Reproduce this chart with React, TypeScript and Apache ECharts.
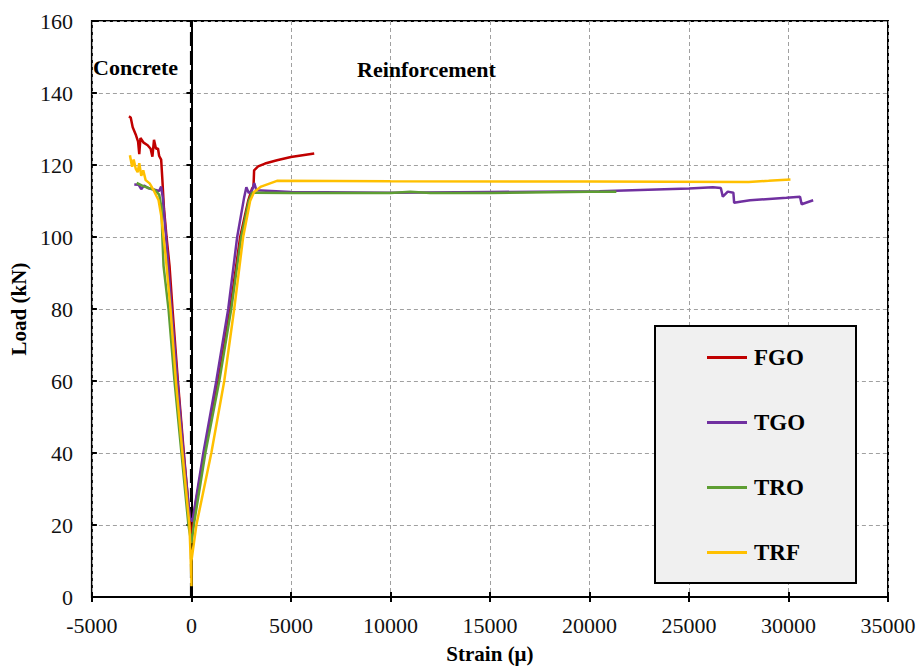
import React, { useEffect, useRef } from "react";
import * as echarts from "echarts";

// Strain (μ), Load (kN) pairs per specimen
const FGO: [number, number][] = [
  [-3140, 133.5], [-3050, 133.2], [-2950, 130.5], [-2800, 128.5], [-2680, 126.5], [-2620, 123], [-2560, 127.5],
  [-2400, 126.2], [-2200, 125.5], [-2050, 124.5], [-1960, 122.3], [-1880, 127], [-1780, 124.5], [-1680, 124.6],
  [-1620, 122.5], [-1520, 121.5], [-1460, 116], [-1380, 108], [-1250, 100], [-1100, 92], [-950, 80], [-680, 60],
  [-380, 40], [-60, 20], [0, 15], [150, 24], [650, 40], [1350, 60], [1950, 80], [2450, 100], [2850, 110],
  [3050, 113.5], [3120, 114], [3150, 118.5], [3350, 119.6], [3700, 120.4], [4300, 121.3], [5000, 122.2], [6170, 123.2],
];
const TGO: [number, number][] = [
  [-2870, 114.6], [-2650, 114.5], [-2520, 113.3], [-2380, 114.3], [-2150, 113.5], [-1850, 113.1], [-1620, 112.8],
  [-1520, 114], [-1440, 111], [-1320, 103], [-1200, 95], [-1000, 80], [-700, 60], [-400, 40], [-80, 22], [50, 21],
  [600, 40], [1250, 60], [1850, 80], [2300, 100], [2650, 111], [2760, 113.8], [2880, 112.2], [3050, 113], [3160, 115],
  [3260, 113], [5000, 112.5], [10000, 112.3], [15000, 112.5], [20500, 112.7], [25000, 113.5], [26200, 113.8],
  [26600, 113.6], [26700, 111.2], [26950, 112.6], [27230, 112.3], [27270, 109.5], [27570, 109.8], [28070, 110.2],
  [29900, 110.9], [30580, 111.2], [30660, 109.1], [31240, 110.2],
];
const TRO: [number, number][] = [
  [-2750, 115], [-2450, 114.2], [-2150, 113.6], [-1850, 113.1], [-1620, 111.8], [-1500, 108], [-1460, 100],
  [-1400, 92], [-1150, 80], [-850, 60], [-500, 40], [-150, 20], [0, 15], [120, 20], [700, 40], [1400, 60],
  [2000, 80], [2500, 100], [2880, 110], [3050, 112.3], [5000, 112.2], [10000, 112.2], [11000, 112.6],
  [12000, 112.2], [15000, 112.2], [20000, 112.6], [21350, 112.6],
];
const TRF: [number, number][] = [
  [-3090, 122.7], [-2980, 119.5], [-2900, 121.5], [-2800, 119], [-2700, 118], [-2620, 120.5], [-2520, 117],
  [-2420, 118.5], [-2300, 115.8], [-2100, 114.9], [-1900, 113], [-1650, 110.2], [-1520, 106], [-1400, 100],
  [-1300, 95], [-1050, 80], [-780, 60], [-450, 40], [-100, 20], [0, 5], [0, 3], [0, 10], [250, 20], [1000, 40],
  [1650, 60], [2150, 80], [2600, 100], [2950, 110], [3150, 112.5], [3500, 114], [4300, 115.6], [10000, 115.5],
  [20000, 115.4], [28000, 115.3], [29000, 115.6], [30100, 116],
];
const DIVIDER: [number, number][] = [[0, 0], [0, 160]];

const SERIES_NAMES = ["FGO", "TGO", "TRO", "TRF"];
const SERIES_DATA = [FGO, TGO, TRO, TRF];
const COLORS = ["#C00000", "#7030A0", "#5E9E33", "#FFC000"];

const FONT = "Liberation Serif";

export default function App() {
  const ref = useRef<HTMLDivElement>(null);
  useEffect(() => {
    if (!ref.current) return;
    const chart = echarts.init(ref.current, null, { renderer: "svg" });
    const series: any[] = SERIES_NAMES.map((name, i) => ({
      name,
      type: "line",
      data: SERIES_DATA[i],
      showSymbol: false,
      symbol: "none",
      lineStyle: { color: COLORS[i], width: 2.5 },
      itemStyle: { color: COLORS[i] },
      z: 3,
    }));
    series.push({
      name: "divider",
      type: "line",
      data: DIVIDER,
      showSymbol: false,
      symbol: "none",
      silent: true,
      lineStyle: { color: "#000", width: 3, type: [14, 5] },
      z: 2,
    });
    const axisText = { fontFamily: FONT, fontSize: 22, color: "#111" };
    const nameText = { fontFamily: FONT, fontWeight: "bold", fontSize: 21, color: "#000" };
    const tick = { show: true, length: 5, lineStyle: { color: "#000", width: 2 } };
    const grid = { show: true, lineStyle: { color: "#A0A0A0", type: [4, 3], width: 1 } };
    chart.setOption({
      animation: false,
      backgroundColor: "#fff",
      textStyle: { fontFamily: FONT },
      grid: { left: 90, right: 33, top: 21, bottom: 71, show: true, borderColor: "#000", borderWidth: 2, backgroundColor: "transparent" },
      xAxis: [
        {
          type: "value",
          min: -5000,
          max: 35000,
          interval: 5000,
          name: "Strain (μ)",
          nameLocation: "middle",
          nameGap: 46,
          nameTextStyle: nameText,
          axisLine: { show: true, onZero: false, lineStyle: { color: "#000", width: 2 } },
          axisTick: tick,
          axisLabel: { ...axisText, margin: 17, formatter: (v: number) => String(v) },
          splitLine: grid,
        },
        {
          type: "value",
          position: "bottom",
          min: -5000,
          max: 35000,
          interval: 5000,
          axisLine: { show: false, onZero: false },
          axisTick: { ...tick, inside: true },
          axisLabel: { show: false },
          splitLine: { show: false },
        },
      ],
      yAxis: [
        {
          type: "value",
          min: 0,
          max: 160,
          interval: 20,
          name: "Load (kN)",
          nameLocation: "middle",
          nameGap: 58,
          nameTextStyle: nameText,
          axisLine: { show: true, lineStyle: { color: "#000", width: 2 } },
          axisTick: tick,
          axisLabel: { ...axisText, margin: 19, formatter: (v: number) => String(v) },
          splitLine: grid,
        },
        {
          type: "value",
          position: "left",
          min: 0,
          max: 160,
          interval: 20,
          axisLine: { show: false, onZero: false },
          axisTick: { ...tick, inside: true },
          axisLabel: { show: false },
          splitLine: { show: false },
        },
      ],
      legend: {
        data: SERIES_NAMES,
        orient: "vertical",
        left: 654,
        top: 325,
        padding: [21, 10, 21, 53],
        itemGap: 42,
        itemWidth: 40,
        itemHeight: 3,
        icon: "rect",
        z: 6,
        textStyle: { fontFamily: FONT, fontWeight: "bold", fontSize: 23, color: "#000", padding: [0, 0, 0, 2] },
      },
      graphic: [
        {
          type: "rect",
          left: 654,
          top: 325,
          z: 5,
          shape: { width: 201, height: 257 },
          style: { fill: "#F0F0F0", stroke: "#000", lineWidth: 2 },
        },
        {
          type: "text",
          left: 93,
          top: 56,
          z: 5,
          style: { text: "Concrete", fontFamily: FONT, fontWeight: "bold", fontSize: 22, fill: "#000" },
        },
        {
          type: "text",
          left: 357,
          top: 58,
          z: 5,
          style: { text: "Reinforcement", fontFamily: FONT, fontWeight: "bold", fontSize: 22, fill: "#000" },
        },
      ],
      series,
    });
    return () => chart.dispose();
  }, []);
  return <div ref={ref} style={{ width: 921, height: 669, position: "absolute", left: 0, top: 0 }} />;
}
